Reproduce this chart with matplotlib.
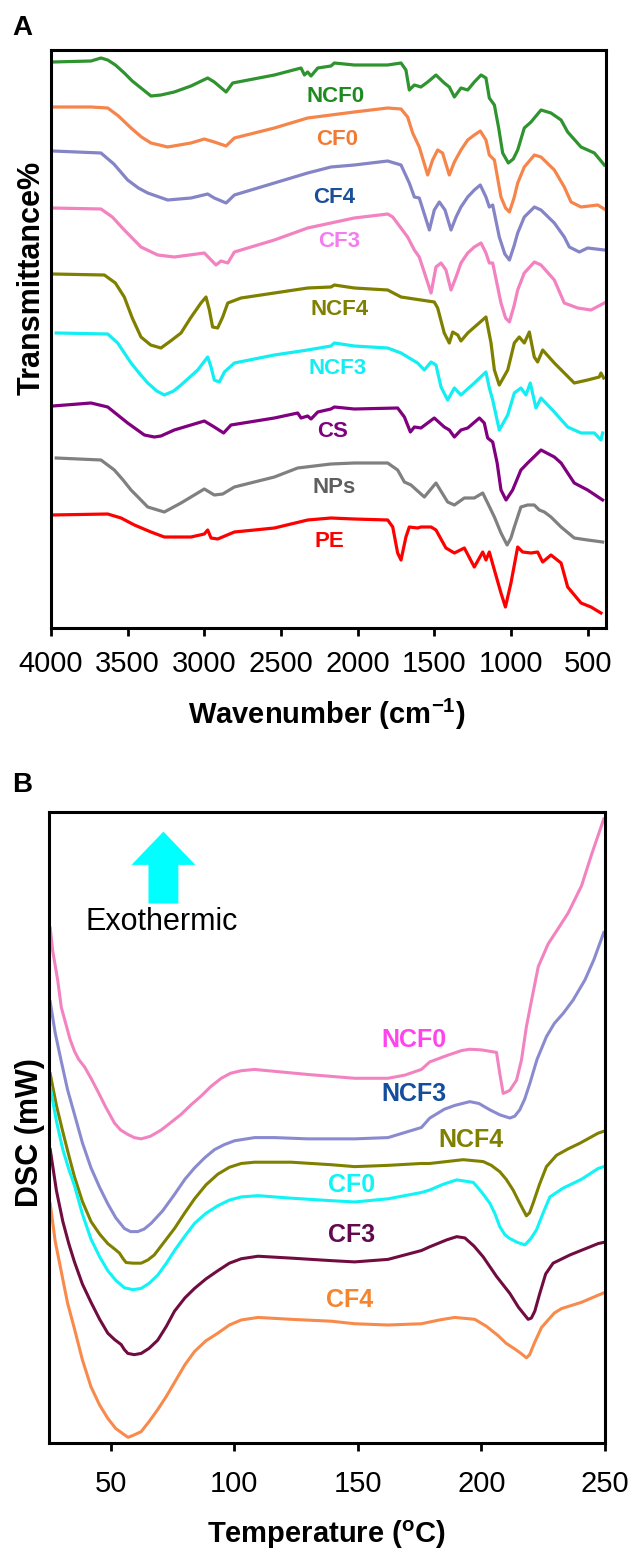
import matplotlib
matplotlib.use("Agg")
import matplotlib.pyplot as plt
from matplotlib.patches import FancyArrowPatch

plt.rcParams["font.family"] = ["Liberation Sans", "DejaVu Sans"]
plt.rcParams["mathtext.fontset"] = "custom"
plt.rcParams["mathtext.rm"] = "Liberation Sans"
plt.rcParams["mathtext.bf"] = "Liberation Sans:bold"

# ---------------- panel A: FTIR (wavenumber, transmittance a.u.) ----------------
ncf0_wn = [3989, 3739, 3674, 3630, 3580, 3522, 3470, 3413, 3348, 3283, 3196, 3087, 2978, 2935,
           2858, 2815, 2543, 2369, 2347, 2326, 2304, 2260, 2174, 2152, 2022, 1804, 1717, 1685,
           1663, 1630, 1587, 1543, 1489, 1435, 1402, 1369, 1326, 1282, 1239, 1195, 1163, 1141,
           1108, 1080, 1054, 1017, 985, 956, 913, 869, 804, 739, 673, 630, 543, 456, 391]
ncf0_t = [566, 567, 570, 568, 563, 555, 547, 540, 532, 533, 536, 542, 550, 546,
          536, 545, 553, 560, 553, 556, 552, 560, 562, 565, 563, 563, 565, 558,
          538, 543, 541, 546, 553, 545, 541, 531, 540, 538, 546, 553, 550, 530,
          523, 500, 475, 465, 469, 478, 500, 506, 518, 515, 508, 496, 481, 475, 463]

cf0_wn = [3989, 3739, 3630, 3560, 3478, 3410, 3348, 3239, 3087, 3000, 2935, 2858, 2804, 2543,
          2326, 2174, 2022, 1804, 1717, 1674, 1641, 1598, 1543, 1511, 1478, 1446, 1402, 1369,
          1326, 1282, 1239, 1200, 1163, 1141, 1108, 1065, 1035, 1010, 980, 956, 913, 847, 804,
          717, 652, 608, 543, 434, 391]
cf0_t = [521, 521, 520, 512, 500, 491, 485, 481, 485, 489, 486, 482, 490, 500,
         510, 513, 516, 520, 519, 511, 495, 481, 453, 468, 478, 475, 453, 466,
         478, 488, 493, 497, 488, 473, 468, 431, 420, 416, 430, 445, 461, 473, 471,
         458, 441, 426, 421, 423, 419]

cf4_wn = [3989, 3674, 3590, 3500, 3430, 3369, 3239, 3087, 2978, 2935, 2858, 2804, 2543, 2326,
          2174, 2022, 1804, 1717, 1663, 1630, 1598, 1532, 1500, 1467, 1430, 1391, 1358, 1326,
          1282, 1239, 1200, 1163, 1141, 1119, 1076, 1040, 1010, 980, 956, 913, 847, 804, 717,
          652, 619, 554, 500, 391]
cf4_t = [477, 475, 464, 448, 440, 435, 428, 430, 434, 430, 425, 433, 445, 455,
         461, 463, 467, 463, 445, 431, 430, 398, 418, 426, 418, 398, 411, 421,
         431, 438, 443, 431, 421, 423, 391, 374, 368, 382, 395, 411, 421, 418, 405,
         391, 381, 376, 380, 378]

cf3_wn = [3989, 3674, 3600, 3522, 3413, 3304, 3196, 3000, 2924, 2891, 2847, 2804, 2543, 2326,
          2174, 2022, 1804, 1771, 1674, 1630, 1598, 1521, 1489, 1456, 1424, 1391, 1358, 1326,
          1282, 1239, 1195, 1163, 1141, 1119, 1065, 1035, 1010, 980, 956, 913, 847, 804, 717,
          652, 565, 478, 391]
cf3_t = [420, 419, 411, 398, 381, 373, 371, 375, 363, 367, 365, 376, 388, 400,
         405, 410, 414, 411, 391, 378, 371, 335, 361, 365, 358, 338, 351, 365,
         375, 381, 385, 375, 365, 365, 325, 310, 306, 322, 338, 355, 366, 363, 348,
         325, 320, 318, 325]

ncf4_wn = [3989, 3652, 3580, 3522, 3470, 3413, 3350, 3283, 3220, 3152, 3090, 3022, 2989, 2967,
           2946, 2913, 2880, 2847, 2761, 2543, 2326, 2174, 2152, 2022, 1804, 1717, 1587, 1500,
           1478, 1435, 1402, 1380, 1347, 1326, 1282, 1163, 1130, 1108, 1076, 1021, 978, 946,
           913, 880, 848, 826, 793, 717, 652, 587, 500, 424, 413, 395]
ncf4_t = [354, 353, 345, 331, 310, 291, 283, 280, 287, 295, 310, 325, 331, 318,
          301, 300, 311, 325, 330, 335, 340, 341, 343, 340, 338, 331, 328, 326,
          320, 295, 285, 296, 293, 287, 295, 311, 285, 258, 243, 258, 285, 291,
          285, 296, 271, 266, 278, 265, 255, 245, 248, 251, 255, 250]

ncf3_wn = [3966, 3630, 3565, 3478, 3420, 3369, 3310, 3261, 3200, 3152, 3043, 2978, 2956, 2935,
           2902, 2869, 2804, 2543, 2326, 2174, 2152, 2022, 1804, 1717, 1609, 1565, 1521, 1489,
           1456, 1413, 1369, 1326, 1239, 1163, 1141, 1119, 1076, 1021, 978, 935, 902, 874, 837,
           804, 717, 630, 543, 456, 413, 402]
ncf3_t = [295, 294, 285, 265, 254, 245, 237, 233, 237, 243, 258, 271, 261, 248,
          246, 256, 265, 273, 278, 282, 285, 282, 280, 275, 265, 258, 266, 263,
          241, 228, 240, 233, 245, 256, 240, 228, 198, 213, 235, 240, 233, 245, 220,
          230, 216, 201, 195, 195, 188, 195]

cs_wn = [3989, 3739, 3630, 3500, 3391, 3326, 3283, 3196, 3000, 2935, 2874, 2826, 2543, 2391,
         2369, 2326, 2304, 2260, 2174, 2152, 2022, 1739, 1695, 1656, 1630, 1587, 1500, 1435,
         1402, 1369, 1326, 1282, 1206, 1174, 1152, 1119, 1090, 1065, 1032, 989, 935, 891, 804,
         717, 673, 587, 500, 402]
cs_t = [222, 225, 221, 205, 193, 191, 192, 198, 207, 201, 195, 203, 210, 215,
        210, 212, 209, 216, 219, 221, 219, 220, 211, 196, 201, 200, 210, 201,
        198, 191, 198, 200, 210, 205, 190, 186, 165, 138, 128, 138, 158, 165, 178,
        171, 165, 145, 138, 128]

nps_wn = [3966, 3674, 3587, 3530, 3478, 3420, 3369, 3261, 3152, 3000, 2935, 2880, 2804, 2543,
          2391, 2174, 2022, 1804, 1739, 1695, 1652, 1565, 1489, 1413, 1369, 1304, 1239, 1184,
          1152, 1108, 1065, 1025, 1000, 978, 935, 891, 848, 815, 782, 739, 673, 587, 500, 402]
nps_t = [170, 168, 158, 148, 138, 129, 121, 116, 125, 139, 133, 134, 141, 151,
         160, 164, 165, 165, 158, 146, 143, 131, 145, 126, 123, 130, 130, 135,
         125, 111, 95, 83, 90, 101, 121, 123, 123, 118, 116, 111, 101, 90, 88, 86]

pe_wn = [4000, 3630, 3543, 3456, 3348, 3261, 3087, 3000, 2978, 2956, 2913, 2804, 2543, 2326,
         2174, 2022, 1804, 1771, 1739, 1717, 1685, 1663, 1609, 1587, 1521, 1489, 1424, 1369,
         1304, 1239, 1184, 1163, 1141, 1108, 1065, 1036, 1000, 956, 924, 869, 826, 793, 739,
         673, 630, 543, 478, 413]
pe_t = [113, 114, 110, 103, 96, 91, 91, 94, 98, 90, 89, 96, 100, 108,
        110, 109, 108, 101, 75, 68, 91, 101, 100, 101, 101, 98, 80, 75,
        80, 61, 76, 68, 76, 58, 35, 21, 45, 81, 76, 75, 76, 66, 73,
        65, 41, 25, 21, 15]

ftir_names = ["NCF0", "CF0", "CF4", "CF3", "NCF4", "NCF3", "CS", "NPs", "PE"]
ftir_wn = [ncf0_wn, cf0_wn, cf4_wn, cf3_wn, ncf4_wn, ncf3_wn, cs_wn, nps_wn, pe_wn]
ftir_t = [ncf0_t, cf0_t, cf4_t, cf3_t, ncf4_t, ncf3_t, cs_t, nps_t, pe_t]
ftir_line_colors = ["#2f932f", "#f5854a", "#8484c6", "#f282c0", "#808000",
                    "#14eef2", "#800080", "#808080", "#ff0000"]
ftir_text_colors = ["#1f8a1f", "#f07c34", "#1b4f9a", "#f47cf0", "#808000",
                    "#14eef2", "#800080", "#5e5e5e", "#ff0000"]
ftir_label_wn = [2147, 2134, 2154, 2121, 2121, 2130, 2162, 2154, 2187]
ftir_label_t = [531, 488, 430, 386, 318, 259, 196, 140, 86]
ftir_ticks = [4000, 3500, 3000, 2500, 2000, 1500, 1000, 500]

# ---------------- panel B: DSC (temperature C, heat flow a.u.) ----------------
ncf0_temp = [25.5, 26.5, 28.5, 30, 31.9, 33.5, 35.3, 37, 39.4, 42, 44.8, 48, 51.5, 54, 56.9,
             59.5, 62.3, 66, 70.4, 74, 78.5, 82.5, 86.6, 90.5, 94.7, 98.5, 102.8, 108.2, 116.3,
             129.8, 139.3, 148.7, 162.2, 169, 175.7, 179.1, 186, 192, 195.3, 200, 206.1, 207.4,
             208.8, 210, 211.5, 214.2, 216.2, 218.2, 220.3, 223, 227, 231, 235.1, 240.5, 244.6,
             249.5]
ncf0_dsc = [81.6, 78.0, 73.4, 69.0, 66.3, 64.0, 62.1, 60.8, 59.6, 57.8, 55.7, 53.2, 50.7, 49.6,
            48.9, 48.4, 48.2, 48.6, 49.6, 50.7, 52.1, 53.6, 55.0, 56.5, 57.8, 58.6, 59.0, 59.2,
            58.9, 58.4, 58.1, 57.8, 57.8, 58.3, 59.2, 60.4, 61.4, 62.2, 62.4, 62.3, 61.9, 58.6,
            55.4, 55.6, 55.9, 57.5, 60.7, 66.0, 70.2, 75.5, 79.1, 81.5, 84.0, 88.3, 93.3, 98.9]

ncf3_temp = [25.5, 27.5, 29.9, 32.5, 35.3, 38.5, 42, 45.5, 48.8, 52, 55.5, 58, 60.9, 63.5, 66.3,
             71, 75.8, 80, 83.9, 88, 92, 96, 100.1, 108.2, 116.3, 129.8, 139.3, 148.7, 162.2,
             175.7, 179.1, 185, 189.2, 195.3, 199, 203.4, 207.5, 211.5, 213.5, 215.5, 217.5,
             219.6, 222.5, 226.3, 229.5, 233.1, 237.1, 241.9, 245.5, 249.5]
ncf3_dsc = [69.9, 65.0, 60.6, 56.0, 52.1, 47.6, 43.6, 40.5, 37.9, 35.7, 34.0, 33.5, 33.5, 33.9,
            34.8, 36.8, 39.4, 41.8, 43.6, 45.2, 46.5, 47.3, 47.9, 48.4, 48.4, 48.2, 48.2, 48.2,
            48.4, 50.0, 51.5, 52.9, 53.5, 54.1, 53.8, 52.8, 52.0, 51.5, 51.8, 52.8, 54.5, 57.0,
            60.8, 64.4, 66.5, 68.1, 70.2, 73.4, 76.6, 80.9]

ncf4_temp = [25.5, 28, 30.6, 33, 35.3, 38.5, 42, 45.5, 48.8, 52, 53.5, 55, 56.2, 59, 62.3, 65,
             67.6, 71.5, 75.8, 80, 83.9, 88.5, 93.3, 98, 102.8, 108.2, 123, 139.3, 148.7, 162.2,
             175.7, 179.1, 192.6, 200.7, 204, 207.4, 210, 212.8, 215.5, 218.2, 219.5, 220.9,
             223.5, 226.3, 230.4, 235, 239.8, 247.2, 249.5]
ncf4_dsc = [58.5, 53.5, 49.3, 45.6, 42.2, 38.3, 35.1, 33.1, 31.6, 30.6, 30.1, 29.2, 28.6, 28.5,
            28.5, 29.0, 29.8, 31.8, 34.0, 36.5, 38.7, 40.9, 42.6, 43.7, 44.3, 44.5, 44.5, 44.1,
            43.8, 44.0, 44.3, 44.3, 44.9, 44.6, 44.0, 43.0, 41.8, 40.1, 38.0, 36.0, 36.5, 38.0,
            41.0, 43.8, 45.6, 46.6, 47.5, 49.1, 49.4]

cf0_temp = [25.5, 28, 30.6, 33, 35.3, 38.5, 42, 45.5, 48.8, 52, 55.5, 59, 62.3, 65.5, 69, 72.5,
            75.8, 80, 83.9, 88.5, 93.3, 98, 102.8, 109.6, 123, 139.3, 148.7, 162.2, 175.7,
            179.1, 184.5, 190, 196.7, 200, 203.4, 205.5, 207.4, 209.5, 211.5, 214.5, 217.6, 220,
            222.3, 225, 227.7, 233.1, 240.5, 247.2, 249.5]
cf0_dsc = [56.4, 51.0, 46.5, 43.4, 40.8, 36.3, 32.3, 29.5, 27.3, 25.8, 24.6, 24.3, 24.5, 25.3,
           26.6, 28.5, 30.5, 32.8, 34.8, 36.4, 37.6, 38.5, 39.0, 39.2, 38.8, 38.4, 38.2, 38.7,
           39.7, 40.1, 41.0, 41.7, 41.3, 39.8, 38.0, 36.3, 34.3, 33.0, 32.4, 31.8, 31.4, 32.4,
           33.8, 36.5, 39.0, 40.4, 41.8, 43.5, 43.8]

cf3_temp = [25.5, 28, 30.6, 33, 35.3, 38.5, 42, 45.5, 48.8, 51.5, 54.2, 55.5, 56.9, 59.5, 62.3,
            65.5, 69, 72.5, 75.8, 80, 83.9, 88.5, 93.3, 98, 102.8, 109.6, 123, 139.3, 148.7,
            162.2, 175.7, 179.1, 186, 190, 193.3, 197, 200.7, 206.1, 211.5, 215, 218.9, 220.2,
            221.6, 223.6, 226, 229, 235.8, 247.2, 249.5]
cf3_dsc = [46.5, 40.0, 35.1, 31.6, 28.7, 25.2, 22.3, 19.6, 17.4, 16.4, 15.6, 14.8, 14.2, 14.0,
           14.2, 15.0, 16.3, 18.5, 20.9, 23.0, 24.5, 26.0, 27.3, 28.5, 29.2, 29.6, 29.3, 28.9,
           28.7, 29.1, 30.5, 31.1, 32.2, 32.7, 32.5, 31.2, 29.5, 26.4, 23.7, 21.5, 19.6, 19.8,
           20.9, 23.7, 26.8, 28.5, 29.8, 31.6, 31.8]

cf4_temp = [25.5, 27.5, 29.9, 32.5, 35.3, 38.5, 42, 45.5, 48.8, 52, 55.5, 57, 59, 62.3, 65.5,
            69, 72.5, 75.8, 80, 83.9, 88.5, 93.3, 98, 102.8, 109.6, 123, 139.3, 148.7, 162.2,
            175.7, 183, 189.2, 197.3, 202, 206.8, 210, 213.5, 216, 218.2, 219.5, 221.6, 224.3,
            227, 229.5, 232.4, 240.5, 249.5]
cf4_dsc = [37.9, 32.0, 27.3, 22.2, 18.1, 13.2, 8.9, 6.0, 3.9, 2.3, 1.3, 0.9, 1.2, 1.8, 3.4,
           5.3, 7.4, 9.6, 12.4, 14.5, 16.2, 17.4, 18.7, 19.5, 19.9, 19.6, 19.3, 18.9, 18.7,
           18.9, 19.5, 19.9, 19.6, 18.5, 17.0, 15.8, 14.9, 14.2, 13.5, 14.0, 16.0, 18.3, 19.5,
           20.6, 21.3, 22.3, 23.8]

dsc_names = ["NCF0", "NCF3", "NCF4", "CF0", "CF3", "CF4"]
dsc_temp = [ncf0_temp, ncf3_temp, ncf4_temp, cf0_temp, cf3_temp, cf4_temp]
dsc_vals = [ncf0_dsc, ncf3_dsc, ncf4_dsc, cf0_dsc, cf3_dsc, cf4_dsc]
dsc_line_colors = ["#f283c0", "#8a8ad0", "#808000", "#10f4f6", "#700c40", "#f88a4c"]
dsc_text_colors = ["#ff44ee", "#124e9c", "#808000", "#10f4f6", "#620a50", "#f5842e"]
dsc_label_temp = [172.7, 172.7, 195.6, 147.4, 147.4, 146.5]
dsc_label_val = [63.8, 55.3, 48.0, 40.9, 33.0, 22.7]
dsc_ticks = [50, 100, 150, 200, 250]

W, H = 628, 1554
fig = plt.figure(figsize=(W / 100, H / 100), dpi=100)


def frac_box(left, top, right, bottom):
    return [left / W, 1 - bottom / H, (right - left) / W, (bottom - top) / H]


def style_axis(ax, ticks, pad):
    for sp in ax.spines.values():
        sp.set_linewidth(2.2)
        sp.set_color("black")
    ax.set_xticks(ticks)
    ax.set_yticks([])
    ax.tick_params(axis="x", direction="out", length=5.5, width=2.0,
                   labelsize=21, pad=pad, colors="black")


# panel A
axA = fig.add_axes(frac_box(51, 50, 606, 628))
for wn, t, c in zip(ftir_wn, ftir_t, ftir_line_colors):
    axA.plot(wn, t, color=c, lw=2.3, solid_joinstyle="round")
for name, x, y, c in zip(ftir_names, ftir_label_wn, ftir_label_t, ftir_text_colors):
    axA.text(x, y, name, color=c, fontsize=16, fontweight="bold",
             ha="center", va="center")
axA.set_xlim(4000, 380)
axA.set_ylim(0, 578)
style_axis(axA, ftir_ticks, 10)

# panel B
axB = fig.add_axes(frac_box(49, 812, 605, 1443))
for tt, v, c in zip(dsc_temp, dsc_vals, dsc_line_colors):
    axB.plot(tt, v, color=c, lw=2.2, solid_joinstyle="round")
for name, x, y, c in zip(dsc_names, dsc_label_temp, dsc_label_val, dsc_text_colors):
    axB.text(x, y, name, color=c, fontsize=18, fontweight="bold",
             ha="center", va="center")
axB.set_xlim(25, 250)
axB.set_ylim(0, 100)
style_axis(axB, dsc_ticks, 14)

arrow = FancyArrowPatch((71.3, 85.5), (71.3, 96.9),
                        arrowstyle="simple,head_length=24,head_width=46,tail_width=21.5",
                        mutation_scale=1, shrinkA=0, shrinkB=0,
                        color="#00ffff", lw=0)
axB.add_patch(arrow)
axB.text(70.5, 82.6, "Exothermic", fontsize=22, ha="center", va="center")

# panel letters and axis titles
fig.text(22 / W, 1 - 28 / H, "A", fontsize=20, fontweight="bold", ha="center", va="center")
fig.text(22 / W, 1 - 785 / H, "B", fontsize=20, fontweight="bold", ha="center", va="center")
fig.text(32 / W, 1 - 278 / H, "Transmittance%", fontsize=22, fontweight="bold",
         rotation=90, ha="center", va="center")
fig.text(30 / W, 1 - 1133 / H, "DSC (mW)", fontsize=22, fontweight="bold",
         rotation=90, ha="center", va="center")
fig.text(326.6 / W, 1 - 724 / H, r"Wavenumber (cm$^{\mathbf{-1}}$)", fontsize=21,
         fontweight="bold", ha="center", va="baseline")
fig.text(326.6 / W, 1 - 1543 / H, r"Temperature ($^{\mathbf{o}}$C)", fontsize=21,
         fontweight="bold", ha="center", va="baseline")

fig.savefig("out.png", dpi=100)
